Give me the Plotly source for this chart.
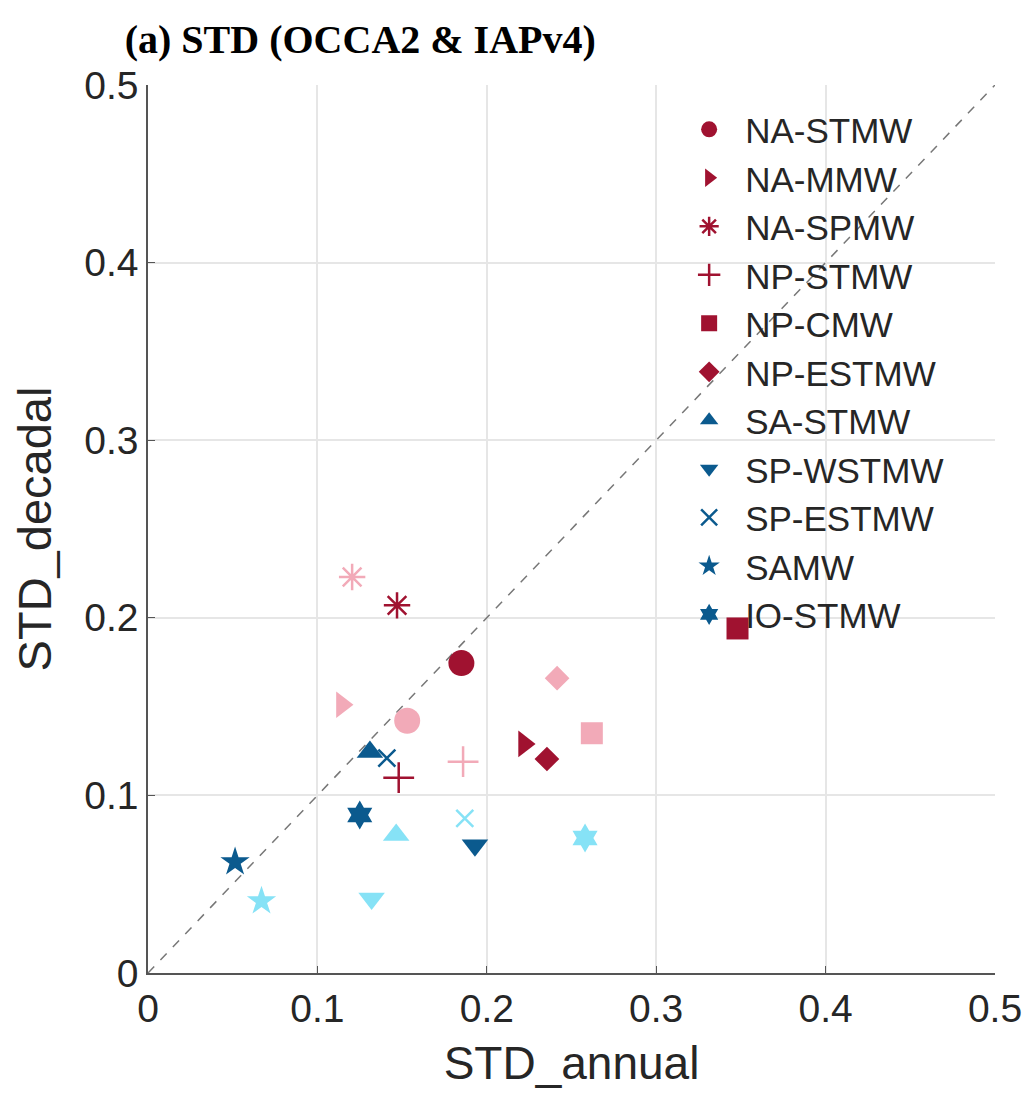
import plotly.graph_objects as go

names = ["NA-STMW", "NA-MMW", "NA-SPMW", "NP-STMW", "NP-CMW", "NP-ESTMW",
         "SA-STMW", "SP-WSTMW", "SP-ESTMW", "SAMW", "IO-STMW"]
# dark markers (OCCA2)
occa_annual = [0.185, 0.222, 0.147, 0.148, 0.348, 0.2355, 0.131, 0.193, 0.141, 0.0514, 0.125]
occa_decadal = [0.1745, 0.129, 0.207, 0.110, 0.194, 0.1205, 0.1245, 0.072, 0.121, 0.0625, 0.089]
# light markers (IAPv4)
iap_annual = [0.153, 0.1145, 0.1205, 0.186, 0.262, 0.2415, 0.1465, 0.132, 0.187, 0.067, 0.258]
iap_decadal = [0.142, 0.151, 0.223, 0.119, 0.135, 0.166, 0.0777, 0.042, 0.087, 0.0405, 0.076]
ref_line = [0, 0.5]
tick_vals = [0, 0.1, 0.2, 0.3, 0.4, 0.5]
tick_text = ["0", "0.1", "0.2", "0.3", "0.4", "0.5"]

symbols = ["circle", "triangle-right", "asterisk-open", "cross-thin-open", "square", "diamond",
           "triangle-up", "triangle-down", "x-thin-open", "star", "hexagram"]
sizes = [26, 23, 22, 22, 22, 19, 23, 23, 17, 22, 22]
dark_red, light_red = "#A01230", "#F2AAB8"
dark_blue, light_blue = "#0B5A8E", "#86E2F6"
dark_cols = [dark_red] * 6 + [dark_blue] * 5
light_cols = [light_red] * 6 + [light_blue] * 5

fig = go.Figure()
fig.add_trace(go.Scatter(x=ref_line, y=ref_line, mode="lines",
                         line=dict(color="#777777", width=1.5, dash="dash"),
                         showlegend=False, hoverinfo="skip"))


def marker(sym, size, col):
    open_sym = sym.endswith("-open")
    return dict(symbol=sym, size=size, color=col,
                line=dict(color=col, width=2.5 if open_sym else 0))


for i, n in enumerate(names):
    fig.add_trace(go.Scatter(x=[iap_annual[i]], y=[iap_decadal[i]], mode="markers",
                             marker=marker(symbols[i], sizes[i], light_cols[i]),
                             showlegend=False, name=n + " (IAPv4)"))
for i, n in enumerate(names):
    fig.add_trace(go.Scatter(x=[occa_annual[i]], y=[occa_decadal[i]], mode="markers",
                             marker=marker(symbols[i], sizes[i], dark_cols[i]),
                             name=n))

axis_common = dict(range=[0, 0.5], tickvals=tick_vals, ticktext=tick_text,
                   showgrid=True, gridcolor="#E6E6E6", gridwidth=1.5,
                   showline=True, linecolor="#555555", linewidth=1.5,
                   ticks="inside", ticklen=7, tickcolor="#555555",
                   zeroline=False, tickfont=dict(size=39, color="#262626"),
                   mirror=False)

fig.update_layout(
    width=1033, height=1094,
    margin=dict(l=140, r=46, t=77, b=129),
    plot_bgcolor="white", paper_bgcolor="white",
    font=dict(family="Liberation Sans, Arial, sans-serif", color="#262626"),
    title=dict(text="<b>(a) STD (OCCA2 &amp; IAPv4)</b>", x=0.113, xanchor="left",
               y=0.972, yanchor="middle",
               font=dict(family="Liberation Serif, Times New Roman, serif", size=40, color="black")),
    xaxis=dict(**axis_common, title=dict(text="STD_annual", font=dict(size=46), standoff=18)),
    yaxis=dict(**axis_common, title=dict(text="STD_decadal", font=dict(size=47), standoff=18)),
    legend=dict(x=0.62, y=0.983, xanchor="left", yanchor="top",
                font=dict(size=35, color="#262626"), bgcolor="rgba(0,0,0,0)",
                tracegroupgap=0, itemsizing="trace", itemwidth=62),
)

fig.write_html("out.html")
